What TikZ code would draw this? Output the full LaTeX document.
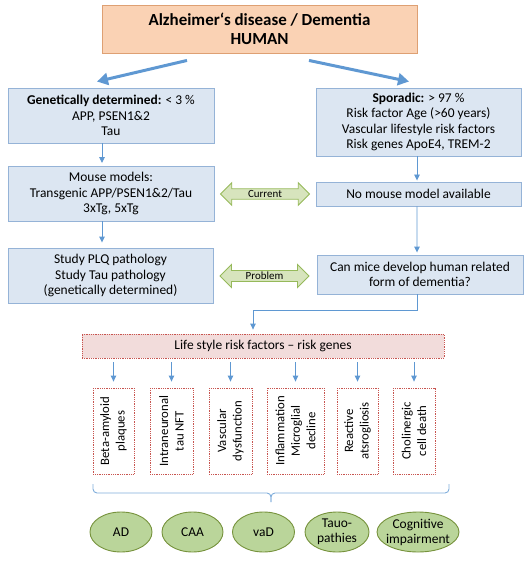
\documentclass[tikz,border=0pt]{standalone}
\usepackage{fontspec}
\setmainfont{Carlito}
\usetikzlibrary{shapes.geometric,shapes.arrows,arrows.meta,calc}
\definecolor{bfill}{RGB}{220,230,242}
\definecolor{bdraw}{RGB}{149,179,215}
\definecolor{ofill}{RGB}{250,210,180}
\definecolor{odraw}{RGB}{222,160,115}
\definecolor{arrblue}{RGB}{95,152,210}
\definecolor{gfill}{RGB}{215,228,189}
\definecolor{gdraw}{RGB}{150,185,90}
\definecolor{efill}{RGB}{186,213,154}
\definecolor{edraw}{RGB}{118,146,60}
\definecolor{pfill}{RGB}{242,220,219}
\definecolor{pdraw}{RGB}{200,85,80}
\begin{document}
\begin{tikzpicture}[x=1bp,y=-1bp,
  bluebox/.style={draw=bdraw, fill=bfill, line width=0.9bp, align=center, inner sep=0pt, font=\fontsize{13.5}{15.3}\selectfont},
  topbox/.style={draw=odraw, fill=ofill, line width=0.9bp, align=center, inner sep=0pt, font=\fontsize{17}{19}\selectfont\bfseries},
  lifebox/.style={draw=pdraw, fill=pfill, densely dotted, line width=0.8bp, align=center, inner sep=0pt, font=\fontsize{13.5}{15}\selectfont},
  vbox/.style={draw=pdraw, fill=white, densely dotted, line width=0.8bp, align=center, inner sep=0pt, rotate=90, minimum width=86bp, font=\fontsize{12.8}{15.5}\selectfont},
  ell/.style={ellipse, draw=edraw, fill=efill, line width=0.9bp, inner sep=0pt, minimum height=40bp},
  elltext/.style={align=center, font=\fontsize{13.5}{15}\selectfont},
  dbl/.style={double arrow, draw=gdraw, fill=gfill, line width=0.9bp, double arrow head extend=6bp, minimum height=89bp, inner xsep=2bp, inner ysep=1.2bp, font=\fontsize{11}{13}\selectfont},
  conn/.style={draw=arrblue, line width=0.9bp, -{Triangle[length=6bp,width=5.5bp]}},
  bigarrow/.style={draw=arrblue, line width=3bp, -{Triangle[length=11bp,width=12bp]}},
  brace/.style={draw=arrblue!80, line width=0.9bp, rounded corners=4bp}
]
\useasboundingbox (0,0) rectangle (531,561);

\node[topbox, minimum width=315bp, minimum height=48bp] (top) at (259.5,29) {Alzheimer‘s disease / Dementia\\HUMAN};

\node[bluebox, minimum width=206bp, minimum height=55bp] (gen) at (111,115.5) {\textbf{Genetically determined:} < 3 \%\\APP, PSEN1\&2\\Tau};
\node[bluebox, minimum width=205bp, minimum height=68bp] (spor) at (418.5,122) {\textbf{Sporadic:} > 97 \%\\Risk factor Age (>60 years)\\Vascular lifestyle risk factors\\Risk genes ApoE4, TREM-2};

\node[bluebox, minimum width=206bp, minimum height=55bp] (mouse) at (111,193.5) {Mouse models:\\Transgenic APP/PSEN1\&2/Tau\\3xTg, 5xTg};
\node[bluebox, minimum width=205bp, minimum height=24bp] (nomouse) at (418.5,194) {No mouse model available};

\node[bluebox, minimum width=205bp, minimum height=55bp] (study) at (110.5,275.5) {Study PLQ pathology\\Study Tau pathology\\(genetically determined)};
\node[bluebox, minimum width=206bp, minimum height=39bp] (canmice) at (420,274.5) {Can mice develop human related\\form of dementia?};

\node[dbl] (cur) at (265,194) {Current};
\node[dbl] (prob) at (264.5,276) {Problem};

\node[lifebox, minimum width=362bp, minimum height=24bp] (life) at (263,346) {Life style risk factors – risk genes};

\node[vbox, minimum height=41bp] (v1) at (113.5,431) {Beta-amyloid\\plaques};
\node[vbox, minimum height=43bp] (v2) at (171.5,431) {Intraneuronal\\tau NFT};
\node[vbox, minimum height=43bp] (v3) at (230.5,431) {Vascular\\dysfunction};
\node[vbox, minimum height=57bp] (v4) at (295.5,431) {Inflammation\\Microglial\\decline};
\node[vbox, minimum height=41bp] (v5) at (357.5,431) {Reactive\\atsrogliosis};
\node[vbox, minimum height=42bp] (v6) at (414,431) {Cholinergic\\cell death};

\node[ell, minimum width=62bp] (e1) at (121,532) {};
\node[ell, minimum width=61bp] (e2) at (192.5,532) {};
\node[ell, minimum width=62bp] (e3) at (263.5,532) {};
\node[ell, minimum width=64bp] (e4) at (337,532) {};
\node[ell, minimum width=82bp] (e5) at (418,532) {};
\node[elltext] (t1) at (e1) {AD};
\node[elltext] (t2) at (e2) {CAA};
\node[elltext] (t3) at (e3) {vaD};
\node[elltext] (t4) at (e4) {Tauo-\\pathies};
\node[elltext] (t5) at (e5) {Cognitive\\impairment};

\draw[bigarrow] ([xshift=-72.5bp,yshift=-7bp]top.south) -- ([xshift=-14bp,yshift=6bp]gen.north);
\draw[bigarrow] ([xshift=49.5bp,yshift=-7bp]top.south) -- ([xshift=-9.5bp,yshift=6bp]spor.north);

\draw[conn] ([xshift=-9bp]gen.south) -- ([xshift=-9bp,yshift=2.5bp]mouse.north);
\draw[conn] ([xshift=-9bp]mouse.south) -- ([xshift=-8.5bp,yshift=5bp]study.north);
\draw[conn] ([xshift=-1.5bp]spor.south) -- ([xshift=-1.5bp,yshift=1bp]nomouse.north);
\draw[conn] ([xshift=-1.5bp]nomouse.south) -- ([xshift=-3bp,yshift=2bp]canmice.north);
\draw[conn] ([xshift=-3bp]canmice.south) -- ++(0,16) -| ([xshift=-10bp,yshift=4bp]life.north);

\foreach \v in {v1,v2,v3,v4,v5,v6}
  \draw[conn] ($(life.south -| \v.east)+(0,4)$) -- ($(\v.east)+(0,-6)$);

\coordinate (bl) at (93,484);
\coordinate (br) at (449,484);
\coordinate (bm) at (271,493);
\coordinate (bt) at (271,502);
\draw[brace] (bl) |- (bm) -- (bt);
\draw[brace] (br) |- (bm) -- (bt);
\end{tikzpicture}
\end{document}
